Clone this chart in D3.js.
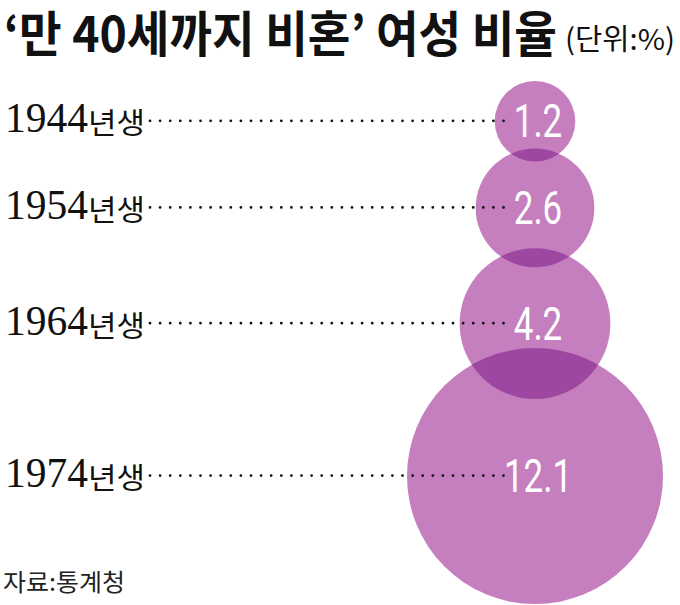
<!DOCTYPE html>
<html><head><meta charset="utf-8">
<script src="https://cdn.jsdelivr.net/npm/d3@7"></script>
<style>html,body{margin:0;padding:0;background:#fff;}</style>
</head><body>
<svg id="chart" width="680" height="605"></svg>
<script>
// ---- data ----
const years = ["1944", "1954", "1964", "1974"];
const yearSuffix = "년생";
const values = [1.2, 2.6, 4.2, 12.1];
const valueLabels = ["1.2", "2.6", "4.2", "12.1"];
const titleMain = "‘만 40세까지 비혼’ 여성 비율";
const titleUnit = "(단위:%)";
const sourceText = "자료:통계청";

// ---- layout ----
const W = 680, H = 605;
const cx = 535;
const firstTop = 81;
const overlaps = [13, 19, 51];
const lightFill = "#c57fbf";
const darkFill = "#9d47a1";

const svg = d3.select("#chart");
const r = d3.scaleSqrt().domain([0, d3.max(values)]).range([0, 128]);

// stacked centers
const centers = [];
values.forEach((v, i) => {
  if (i === 0) centers.push(firstTop + r(v));
  else centers.push(centers[i-1] + r(values[i-1]) + r(v) - overlaps[i-1]);
});
const rows = values.map((v, i) => ({year: years[i], v, label: valueLabels[i], cy: centers[i], rr: r(v)}));

// title
svg.append("text").attr("transform", "translate(4,52) scale(1,1.06)")
  .attr("font-family", "'Noto Sans CJK KR', sans-serif").attr("font-weight", 700)
  .attr("font-size", 46).attr("textLength", 553).attr("lengthAdjust", "spacingAndGlyphs")
  .attr("fill", "#111").text(titleMain);
svg.append("text").attr("x", 565).attr("y", 50)
  .attr("font-family", "'Noto Sans CJK KR', sans-serif").attr("font-weight", 400)
  .attr("font-size", 29).attr("textLength", 110).attr("lengthAdjust", "spacingAndGlyphs")
  .attr("fill", "#111").text(titleUnit);

// circles
const defs = svg.append("defs");
rows.forEach((d, i) => {
  defs.append("clipPath").attr("id", "clip" + i)
    .append("circle").attr("cx", cx).attr("cy", d.cy).attr("r", d.rr);
});
svg.append("g").selectAll("circle").data(rows).join("circle")
  .attr("cx", cx).attr("cy", d => d.cy).attr("r", d => d.rr).attr("fill", lightFill);
svg.append("g").selectAll("circle").data(rows.slice(1)).join("circle")
  .attr("cx", cx).attr("cy", d => d.cy).attr("r", d => d.rr)
  .attr("clip-path", (d, i) => `url(#clip${i})`).attr("fill", darkFill);

// dotted leaders
svg.append("g").selectAll("line").data(rows).join("line")
  .attr("x1", 150).attr("x2", 506).attr("y1", d => d.cy - 0.5).attr("y2", d => d.cy - 0.5)
  .attr("stroke", "#111").attr("stroke-width", 2.8).attr("stroke-linecap", "round")
  .attr("stroke-dasharray", "0 10.1");

// year labels
const yl = svg.append("g").selectAll("text").data(rows).join("text")
  .attr("x", 5).attr("y", d => d.cy + 11).attr("fill", "#111");
yl.append("tspan").attr("font-family", "'Liberation Serif', 'Times New Roman', serif")
  .attr("font-size", 42).attr("textLength", 83).attr("lengthAdjust", "spacingAndGlyphs")
  .text(d => d.year);
yl.append("tspan").attr("font-family", "'Noto Sans CJK KR', sans-serif")
  .attr("font-size", 29).attr("dy", 2).attr("textLength", 57).attr("lengthAdjust", "spacingAndGlyphs")
  .text(yearSuffix);

// value labels
svg.append("g").selectAll("text").data(rows).join("text")
  .attr("transform", d => `translate(${cx + 3},${d.cy + 16}) scale(0.76,1)`)
  .attr("text-anchor", "middle")
  .attr("font-family", "Roboto, sans-serif").attr("font-weight", 400)
  .attr("font-size", 46).attr("fill", "#fff")
  .text(d => d.label);

// source
svg.append("text").attr("x", 3).attr("y", 591)
  .attr("font-family", "'Noto Sans CJK KR', sans-serif").attr("font-size", 24)
  .attr("textLength", 122).attr("lengthAdjust", "spacingAndGlyphs")
  .attr("fill", "#222").text(sourceText);
</script>
</body></html>
